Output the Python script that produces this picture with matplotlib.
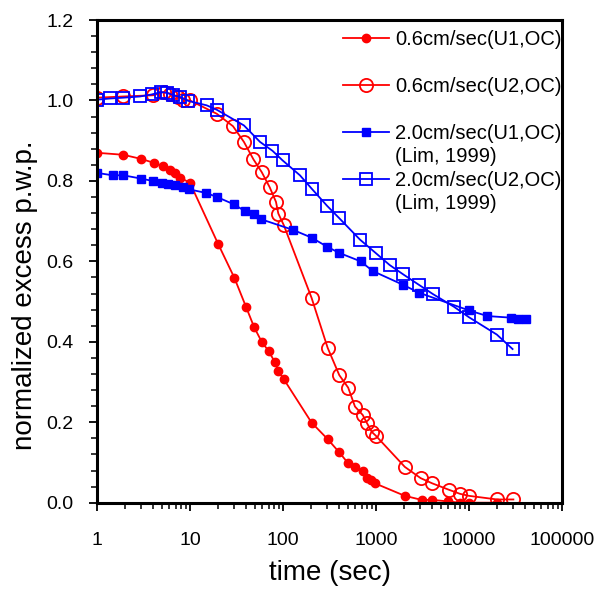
import matplotlib
matplotlib.use('Agg')
import matplotlib.pyplot as plt
from matplotlib.lines import Line2D
from matplotlib.ticker import MultipleLocator, LogLocator, NullFormatter
import numpy as np

plt.rcParams['font.family'] = ['Liberation Sans', 'DejaVu Sans']

# 0.6cm/sec (U1,OC) - red filled circles
t_u1_06 = [1, 1.92, 2.95, 4.1, 5.1, 6.1, 6.9, 7.9, 10, 20, 30, 40, 49, 59, 70, 82, 89, 102,
           203, 302, 403, 502, 594, 719, 794, 877, 977, 2040, 3090, 4030, 6000, 8000, 10000, 20000]
p_u1_06 = [0.870, 0.865, 0.855, 0.845, 0.837, 0.828, 0.820, 0.808, 0.795, 0.644, 0.559, 0.487,
           0.436, 0.400, 0.377, 0.349, 0.327, 0.307, 0.199, 0.158, 0.125, 0.098, 0.089, 0.080,
           0.062, 0.056, 0.048, 0.017, 0.007, 0.007, 0.003, 0.0, 0.0, 0.0]

# 0.6cm/sec (U2,OC) - red open circles
t_u2_06 = [1, 1.92, 4.0, 5.2, 6.1, 7.5, 8.5, 10, 19.4, 29, 38, 48, 59, 72, 84, 89, 102,
           203, 302, 403, 502, 594, 720, 794, 900, 1000, 2040, 3020, 4030, 6100, 8000, 10000,
           20000, 30000]
p_u2_06 = [1.007, 1.010, 1.013, 1.021, 1.017, 1.009, 1.002, 1.000, 0.967, 0.936, 0.897, 0.854,
           0.822, 0.784, 0.748, 0.719, 0.690, 0.509, 0.385, 0.317, 0.286, 0.239, 0.218, 0.199,
           0.176, 0.166, 0.089, 0.061, 0.048, 0.032, 0.022, 0.017, 0.008, 0.008]

# 2.0cm/sec (U1,OC) (Lim, 1999) - blue filled squares
t_u1_20 = [1, 1.47, 1.92, 2.95, 3.96, 4.96, 5.85, 6.9, 8.5, 9.8, 15, 19.5, 29.5, 39, 48.7, 57.6,
           129, 203, 300, 403, 684, 922, 1940, 2900, 10000, 15800, 28300, 33900, 41500]
p_u1_20 = [0.820, 0.814, 0.814, 0.806, 0.800, 0.795, 0.792, 0.789, 0.784, 0.779, 0.770, 0.760,
           0.742, 0.725, 0.719, 0.705, 0.678, 0.659, 0.636, 0.621, 0.600, 0.576, 0.542, 0.522,
           0.478, 0.464, 0.460, 0.456, 0.456]

# 2.0cm/sec (U2,OC) (Lim, 1999) - blue open squares
t_u2_20 = [1, 1.38, 1.92, 2.9, 3.87, 4.9, 5.7, 6.6, 7.8, 9.6, 15.1, 19.4, 38, 56.6, 77, 99, 152,
           203, 298, 400, 673, 990, 1400, 1950, 2880, 4070, 6900, 10000, 19900, 29400]
p_u2_20 = [1.002, 1.005, 1.007, 1.010, 1.015, 1.021, 1.019, 1.013, 1.009, 0.999, 0.988, 0.977,
           0.938, 0.897, 0.875, 0.851, 0.814, 0.781, 0.738, 0.708, 0.654, 0.621, 0.591, 0.568,
           0.542, 0.519, 0.487, 0.461, 0.418, 0.382]

labels = ['0.6cm/sec(U1,OC)', '0.6cm/sec(U2,OC)', '2.0cm/sec(U1,OC)', '2.0cm/sec(U2,OC)']
second_lines = [' ', ' ', '(Lim, 1999)', '(Lim, 1999)']

fig = plt.figure(figsize=(5.97, 5.90), dpi=100)
ax = fig.add_axes([0.1625, 0.148, 0.7789, 0.818])

h1, = ax.plot(t_u1_06, p_u1_06, color='#ff0000', lw=1.3, marker='o', ms=6, mfc='#ff0000',
              mec='#ff0000')
h2, = ax.plot(t_u2_06, p_u2_06, color='#ff0000', lw=1.3, marker='o', ms=9.5, mfc='none',
              mec='#ff0000', mew=1.3)
h3, = ax.plot(t_u1_20, p_u1_20, color='#0000ff', lw=1.3, marker='s', ms=6, mfc='#0000ff',
              mec='#0000ff')
h4, = ax.plot(t_u2_20, p_u2_20, color='#0000ff', lw=1.3, marker='s', ms=9, mfc='none',
              mec='#0000ff', mew=1.3)

ax.set_xscale('log')
ax.set_xlim(1, 100000)
ax.set_ylim(0, 1.2)
ax.set_xticks([1, 10, 100, 1000, 10000, 100000])
ax.set_xticklabels(['1', '10', '100', '1000', '10000', '100000'])
ax.xaxis.set_minor_locator(LogLocator(base=10, subs=np.arange(2, 10)))
ax.xaxis.set_minor_formatter(NullFormatter())
ax.yaxis.set_major_locator(MultipleLocator(0.2))
ax.yaxis.set_minor_locator(MultipleLocator(0.04))
ax.yaxis.set_major_formatter(plt.FormatStrFormatter('%.1f'))

for s in ax.spines.values():
    s.set_linewidth(2.2)
ax.tick_params(which='major', direction='out', length=6, width=1.3, labelsize=14)
ax.tick_params(axis='y', which='major', pad=11)
ax.tick_params(axis='x', which='major', pad=15)
ax.tick_params(which='minor', direction='out', length=4, width=1.1)

ax.set_xlabel('time (sec)', fontsize=20, labelpad=8)
ax.set_ylabel('normalized excess p.w.p.', fontsize=20)
ax.yaxis.set_label_coords(-0.126, 0.43)

# legend: each entry takes two rows, handle on the first row
blank = Line2D([], [], linestyle='none', marker='none')
handles, texts = [], []
for h, l1, l2 in zip([h1, h2, h3, h4], labels, second_lines):
    handles += [h, blank]
    texts += [l1, l2]
leg = ax.legend(handles, texts, loc='upper left', bbox_to_anchor=(343 / 597, 1 - 30 / 590),
                bbox_transform=fig.transFigure, frameon=False, fontsize=14.5,
                borderpad=0, borderaxespad=0, labelspacing=0.22, handlelength=2.3,
                handletextpad=0.3)

fig.savefig('out.png', dpi=100)
